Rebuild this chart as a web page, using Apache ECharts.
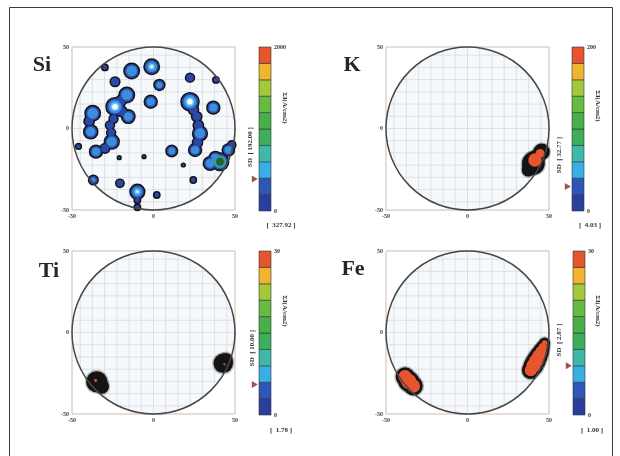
<!DOCTYPE html>
<html><head><meta charset="utf-8">
<script src="https://cdn.jsdelivr.net/npm/echarts@6/dist/echarts.min.js"></script>
<style>html,body{margin:0;padding:0;background:#fff}#c{width:620px;height:456px}</style>
</head><body><div id="c"></div>
<script>
// ---- map data ----
const elements = ['Si', 'K', 'Ti', 'Fe'];
const scaleMax = [2000, 200, 30, 30];
const sdValues = ['192.00', '32.77', '10.00', '2.87'];
const floorValues = ['327.92', '4.03', '1.78', '1.00'];
const markerValues = [390, 30, 5.6, 9];
const axisTicks = [-50, 0, 50];
const mapRadius = 50;
const gridValues = [-45, -37.5, -30, -22.5, -15, -7.5, 0, 7.5, 15, 22.5, 30, 37.5, 45];
// colour bar steps, bottom to top
const barColors = ['#2a3f9c', '#2f56b6', '#38b0e6', '#3fb8a8', '#3daf58', '#48b046', '#66bb40', '#a3c93a', '#f0b52c', '#e8552a'];

// intensity spots: [x, y, radius, level]
const siSpots = [
  [-1.1, 37.9, 5.2, 3], [-13.4, 35.3, 5.2, 2], [-29.8, 37.5, 2.4, 1], [-23.6, 28.7, 3.4, 1],
  [3.6, 26.7, 3.8, 2], [-1.7, 16.4, 4.4, 2], [-16.4, 20.6, 5.2, 2], [-20, 17, 3.8, 1],
  [-23.6, 13.4, 6.0, 3], [-15.5, 7.3, 4.6, 2], [-19.5, 10.5, 3.8, 1], [-24.5, 6, 3.2, 1], [-26.7, 2, 3.2, 1],
  [-26, -2.5, 3.2, 1], [-25.6, -8.1, 5.0, 2], [-29.8, -12.2, 3.4, 1], [-37.3, 9.3, 5.2, 2],
  [-39.5, 4.5, 3.6, 1], [-38.5, -2, 4.8, 2], [-35.3, -14.2, 4.4, 2], [-46, -11, 2.2, 1],
  [-21, -17.9, 1.6, 1], [-5.8, -17.3, 1.6, 1], [11.2, -13.8, 4.0, 2], [18.3, -22.4, 1.6, 1],
  [22.4, 16.4, 6.0, 3], [24.5, 11.5, 3.6, 1], [26.5, 7.3, 3.6, 1], [27.5, 2, 3.6, 1],
  [28.5, -3, 5.0, 2], [27, -8.5, 3.6, 1], [25.5, -13.2, 4.4, 2], [22.4, 31.2, 3.2, 1], [36.7, 12.8, 4.4, 2],
  [38.3, 29.8, 2.4, 1], [34.7, -21.4, 4.6, 2], [38, -18, 4.4, 2], [40.8, -20.4, 5.8, 4], [45.9, -13.2, 4.2, 2],
  [48, -10.1, 3.0, 1], [-36.9, -31.6, 3.4, 2], [-20.6, -33.6, 3.0, 1], [-9.9, -38.8, 5.0, 3],
  [-9.9, -44, 2.4, 1], [-9.9, -48.3, 2.4, 1], [2, -40.8, 2.4, 1], [24.4, -31.6, 2.4, 1]
];
const kSpots = [
  [40.4, -21.4, 7.0, 1], [45.5, -14.2, 5.0, 1], [37.3, -25.5, 4.0, 1],
  [41.4, -19.3, 5.8, 2], [44.5, -15.2, 4.4, 2]
];
const tiSpots = [
  [-34.8, -30.2, 6.5, 1], [-31.8, -33.1, 4.5, 1], [-35.5, -29.5, 2.6, 2],
  [42.8, -18.9, 6.0, 1], [44.5, -16.5, 4.0, 1], [43.5, -19.5, 2.4, 2]
];
const feSpots = [
  [-38.3, -27.1, 5.8, 2], [-36, -30, 6.4, 2], [-33.2, -32.8, 5.8, 2],
  [47.3, -6.5, 3.4, 2], [46.2, -9, 4.2, 2], [45, -11.6, 5.0, 2], [43.6, -14.4, 5.6, 2],
  [42, -17.4, 6.0, 2], [40.4, -20.4, 6.0, 2], [38.8, -23.2, 5.4, 2]
];
const spotSets = [siSpots, kSpots, tiSpots, feSpots];

// ---- drawing ----
// contour layers: [colour, inset from the spot edge, minimum level]
const siliconLayers = [
  ['#141414', 0, 1], ['#2b47a8', 0.9, 1], ['#3b8edb', 1.9, 2],
  ['#6cc6ee', 3.3, 3], ['#f2fbff', 4.3, 3], ['#34a088', 2.2, 4], ['#275f34', 3.4, 4]
];
const metalLayers = [
  ['rgba(50,50,50,0.3)', -0.8, 1], ['#141414', 0, 1], ['#e8552c', 1.7, 2]
];
const layerSets = [siliconLayers, metalLayers, metalLayers, metalLayers];

const layout = [
  { grid: [72, 47], bar: [259, 47], title: [42, 65], sd: [250, 147], unit: [285, 108], floor: [281, 225] },
  { grid: [386, 47], bar: [572, 47], title: [352, 65], sd: [559, 155], unit: [598, 106], floor: [590, 225] },
  { grid: [72, 251], bar: [259, 251], title: [49, 271], sd: [252, 348], unit: [285, 311], floor: [281, 430] },
  { grid: [386, 251], bar: [573, 251], title: [353, 269], sd: [559, 340], unit: [598, 311], floor: [592, 430] }
];
const BOX = 163, BAR_W = 12, BAR_H = 164;

const grids = [], xAxes = [], yAxes = [], series = [], graphics = [];
const smallFont = 'Liberation Serif';

layout.forEach((L, p) => {
  const gi = p * 2, bi = p * 2 + 1;
  grids.push({ left: L.grid[0], top: L.grid[1], width: BOX, height: BOX, show: true, borderColor: '#c9bbb3', borderWidth: 1, backgroundColor: 'transparent' });
  grids.push({ left: L.bar[0], top: L.bar[1], width: BAR_W, height: BAR_H, show: false });
  const axisCommon = {
    type: 'value', min: axisTicks[0], max: axisTicks[2], interval: axisTicks[2], gridIndex: gi,
    axisLine: { show: false }, splitLine: { show: false },
    axisTick: { show: true, length: 2, lineStyle: { color: '#777' } },
    axisLabel: { fontSize: 6, color: '#444', margin: 3, fontFamily: smallFont, fontWeight: 'bold' }
  };
  xAxes.push(Object.assign({}, axisCommon));
  yAxes.push(Object.assign({}, axisCommon));
  xAxes.push({ type: 'value', min: 0, max: 1, gridIndex: bi, show: false });
  yAxes.push({
    type: 'value', min: 0, max: scaleMax[p], interval: scaleMax[p], gridIndex: bi, position: 'right',
    axisLine: { show: false }, axisTick: { show: false }, splitLine: { show: false },
    axisLabel: { show: true, fontSize: 6, color: '#333', margin: 3, fontFamily: smallFont, fontWeight: 'bold',
      formatter: v => String(v) }
  });

  // disc background with measurement grid
  series.push({
    type: 'custom', xAxisIndex: gi, yAxisIndex: gi, silent: true, clip: false, z: 1,
    data: [[0, 0]],
    renderItem: (params, api) => {
      const c = api.coord([0, 0]);
      const r = api.size([mapRadius, 0])[0];
      return { type: 'circle', shape: { cx: c[0], cy: c[1], r }, style: { fill: '#f6f9fc' } };
    }
  });
  series.push({
    type: 'custom', xAxisIndex: gi, yAxisIndex: gi, silent: true, clip: false, z: 2,
    data: gridValues.map(v => [v]),
    renderItem: (params, api) => {
      const v = api.value(0);
      const half = Math.sqrt(mapRadius * mapRadius - v * v);
      const a = api.coord([v, -half]), b = api.coord([v, half]);
      const c = api.coord([-half, v]), d = api.coord([half, v]);
      const st = { stroke: '#d2d6db', lineWidth: 0.7 };
      return { type: 'group', children: [
        { type: 'line', shape: { x1: a[0], y1: a[1], x2: b[0], y2: b[1] }, style: st },
        { type: 'line', shape: { x1: c[0], y1: c[1], x2: d[0], y2: d[1] }, style: st }
      ] };
    }
  });
  // intensity contours
  layerSets[p].forEach((layer, li) => {
    series.push({
      type: 'custom', xAxisIndex: gi, yAxisIndex: gi, silent: true, clip: false, z: 3 + li,
      dimensions: ['x', 'y', 'r', 'lv'], encode: { x: 0, y: 1 },
      data: spotSets[p],
      renderItem: (params, api) => {
        if (api.value(3) < layer[2]) return null;
        const rr = api.value(2) - layer[1];
        if (rr <= 0) return null;
        const c = api.coord([api.value(0), api.value(1)]);
        const r = api.size([rr, 0])[0];
        return { type: 'circle', shape: { cx: c[0], cy: c[1], r }, style: { fill: layer[0] } };
      }
    });
  });
  // disc rim
  series.push({
    type: 'custom', xAxisIndex: gi, yAxisIndex: gi, silent: true, clip: false, z: 20,
    data: [[0, 0]],
    renderItem: (params, api) => {
      const c = api.coord([0, 0]);
      const r = api.size([mapRadius, 0])[0];
      return { type: 'circle', shape: { cx: c[0], cy: c[1], r }, style: { fill: 'none', stroke: '#474747', lineWidth: 1.5 } };
    }
  });
  // colour bar
  const step = scaleMax[p] / barColors.length;
  series.push({
    type: 'custom', xAxisIndex: bi, yAxisIndex: bi, silent: true, clip: false, z: 5,
    data: barColors.map((col, i) => [i * step, (i + 1) * step, i]),
    renderItem: (params, api) => {
      const a = api.coord([0, api.value(1)]);
      const b = api.coord([1, api.value(0)]);
      return { type: 'rect', shape: { x: a[0], y: a[1], width: b[0] - a[0], height: b[1] - a[1] },
        style: { fill: barColors[api.value(2)], stroke: '#2d3440', lineWidth: 0.6 } };
    }
  });
  series.push({
    type: 'scatter', xAxisIndex: bi, yAxisIndex: bi, silent: true, clip: false, z: 6,
    data: [[-0.35, markerValues[p]]], symbol: 'triangle', symbolRotate: -90, symbolSize: [7, 6],
    itemStyle: { color: '#7e2a20' }
  });

  // labels
  graphics.push({ type: 'text', x: L.title[0], y: L.title[1], style: {
    text: elements[p], font: 'bold 22px "Liberation Serif"', fill: '#262626', align: 'center', verticalAlign: 'middle' } });
  graphics.push({ type: 'text', x: L.sd[0], y: L.sd[1], rotation: Math.PI / 2, style: {
    text: 'SD  [ ' + sdValues[p] + ' ]', font: 'bold 7px "Liberation Serif"', fill: '#333', align: 'center', verticalAlign: 'middle' } });
  graphics.push({ type: 'text', x: L.unit[0], y: L.unit[1], rotation: -Math.PI / 2, style: {
    text: 'ΣI(A/cm2)', font: 'bold 7px "Liberation Serif"', fill: '#333', align: 'center', verticalAlign: 'middle' } });
  graphics.push({ type: 'text', x: L.floor[0], y: L.floor[1], style: {
    text: '[  ' + floorValues[p] + ' ]', font: 'bold 7px "Liberation Serif"', fill: '#333', align: 'center', verticalAlign: 'middle' } });
});

graphics.push({ type: 'rect', shape: { x: 9.5, y: 7.5, width: 603, height: 470 }, style: { fill: 'none', stroke: '#3a3a3a', lineWidth: 1 }, z: 100 });

const chart = echarts.init(document.getElementById('c'), null, { renderer: 'canvas' });
chart.setOption({
  animation: false,
  backgroundColor: '#ffffff',
  grid: grids, xAxis: xAxes, yAxis: yAxes, series: series, graphic: graphics
});
</script></body></html>
